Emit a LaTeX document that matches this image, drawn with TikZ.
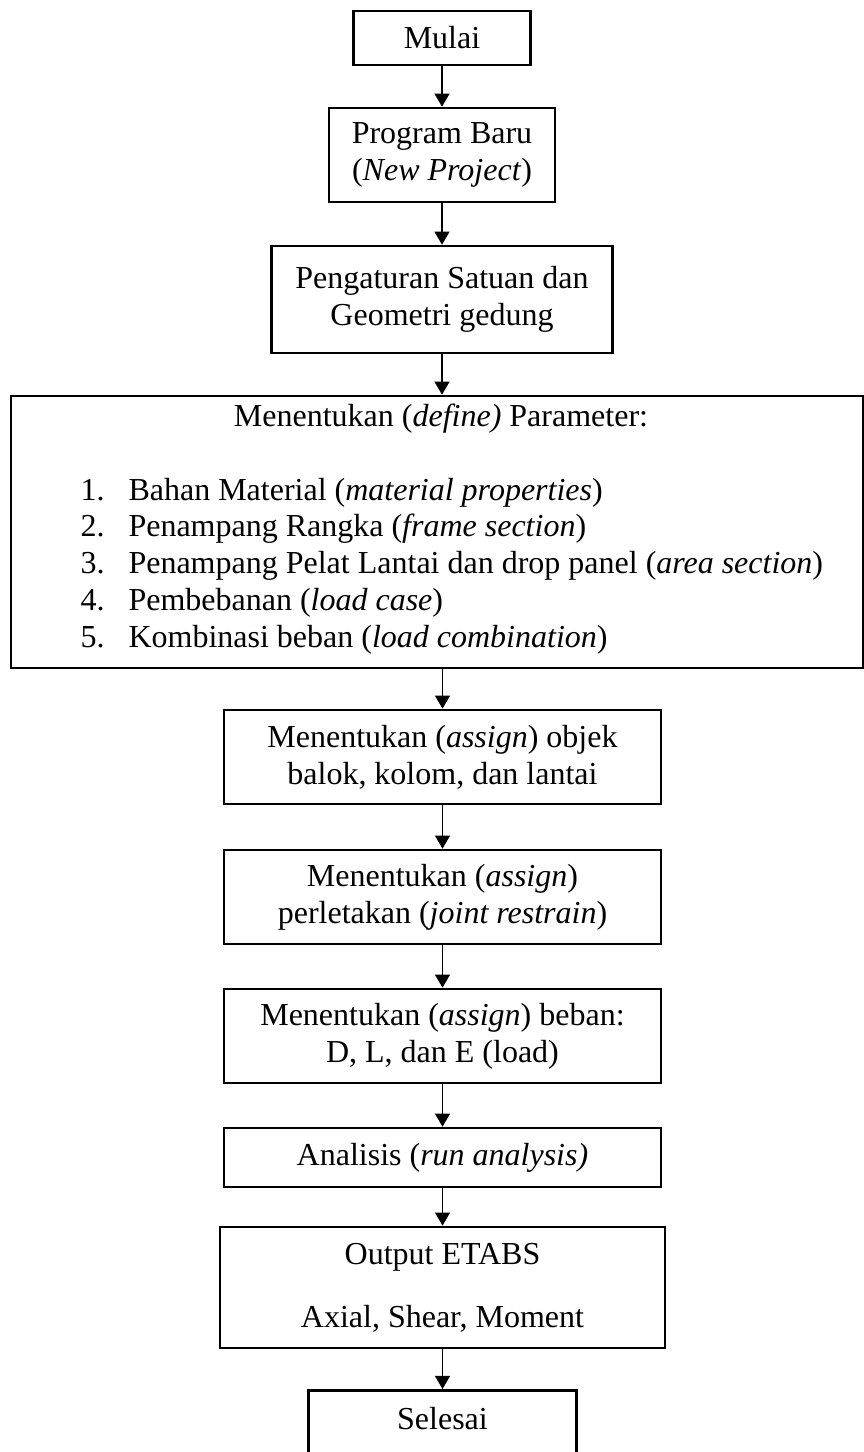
\documentclass[tikz,border=0pt]{standalone}
\usepackage{fontspec}
\setmainfont{Liberation Serif}
\usetikzlibrary{arrows.meta}

\begin{document}
\begin{tikzpicture}[x=0.375pt, y=-0.375pt,
        box/.style={draw, line width=1pt, align=center, inner sep=0pt,
            font=\fontsize{12pt}{13.8pt}\selectfont},
        txt/.style={inner sep=0pt, font=\fontsize{12pt}{13.8pt}\selectfont},
        arr/.style={line width=0.5pt, -{Triangle[width=5.6pt,length=4.9pt]}}]
        \useasboundingbox (0,0) rectangle (864,1452);
        % kotak alur
        \node[box, minimum width=66.4pt, minimum height=20.25pt] (mulai) at (442,38) {Mulai};
        \node[box, minimum width=84.75pt, minimum height=35.25pt] (baru) at (442,155) {Program Baru\\(\textit{New Project})};
        \node[box, minimum width=127.9pt, minimum height=40.1pt] (geo) at (442,299.5) {Pengaturan Satuan dan\\Geometri gedung};
        \node[box, minimum width=319.5pt, minimum height=102pt] (def) at (437,532) {};
        \node[txt, anchor=base] (deftitle) at (441,426) {Menentukan (\textit{define)} Parameter:};
        \node[txt, anchor=base west] (deflist) at (80,500) {\begin{tabular}[t]{@{}p{18pt}@{}l@{}}
            1. & Bahan Material (\textit{material properties})\\
            2. & Penampang Rangka (\textit{frame section})\\
            3. & Penampang Pelat Lantai dan drop panel (\textit{area section})\\
            4. & Pembebanan (\textit{load case})\\
            5. & Kombinasi beban (\textit{load combination})
        \end{tabular}};
        \node[box, minimum width=163.9pt, minimum height=35.25pt] (objek) at (442.5,757) {Menentukan (\textit{assign}) objek\\balok, kolom, dan lantai};
        \node[box, minimum width=163.9pt, minimum height=35.25pt] (joint) at (442.5,897) {Menentukan (\textit{assign})\\perletakan (\textit{joint restrain})};
        \node[box, minimum width=163.9pt, minimum height=35.25pt] (beban) at (442.5,1036) {Menentukan (\textit{assign}) beban:\\D, L, dan E (load)};
        \node[box, minimum width=163.9pt, minimum height=22.1pt] (run) at (442.5,1157.5) {Analisis (\textit{run analysis)}};
        \node[box, minimum width=166.9pt, minimum height=45.4pt] (output) at (442.5,1287.5) {Output ETABS\\[9.8pt]Axial, Shear, Moment};
        \node[box, minimum width=100.5pt, text height=14.6pt, text depth=15.75pt, anchor=north] (selesai) at (442.5,1389) {Selesai};
        % panah
        \draw[arr] (mulai) -- (baru);
        \draw[arr] (baru) -- (geo);
        \draw[arr] (geo.south) -- (geo.south |- def.north);
        \draw[arr] (def.south -| objek.north) -- (objek.north);
        \draw[arr] (objek) -- (joint);
        \draw[arr] (joint) -- (beban);
        \draw[arr] (beban) -- (run);
        \draw[arr] (run) -- (output);
        \draw[arr] (output) -- (selesai);
    \end{tikzpicture}
\end{document}
